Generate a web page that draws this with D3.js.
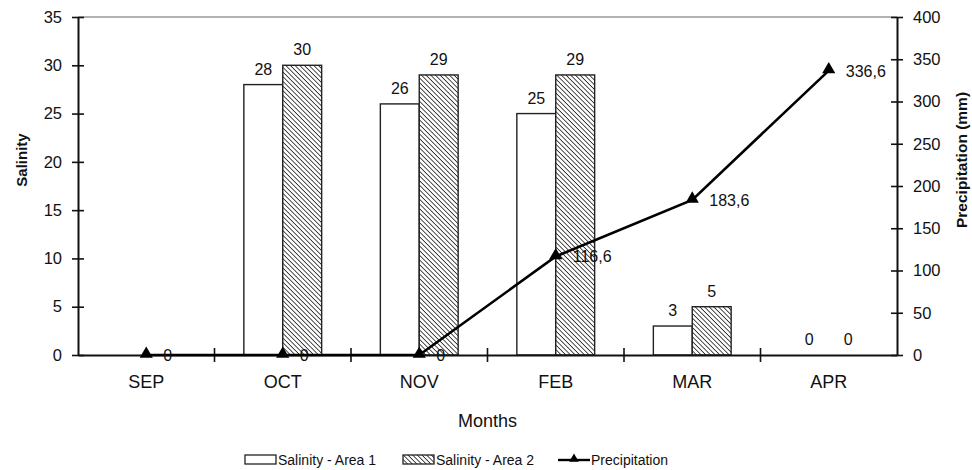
<!DOCTYPE html>
<html>
<head>
<meta charset="utf-8">
<script src="https://cdn.jsdelivr.net/npm/d3@7"></script>
<style>
  body { margin: 0; background: #fff; }
  svg text { font-family: "Liberation Sans", Arial, sans-serif; fill: #111; }
</style>
</head>
<body>
<div id="chart"></div>
<script>
// Data
const months = ["SEP", "OCT", "NOV", "FEB", "MAR", "APR"];
const salinityArea1 = [null, 28, 26, 25, 3, 0];
const salinityArea2 = [null, 30, 29, 29, 5, 0];
const precipitation = [0, 0, 0, 116.6, 183.6, 336.6];
const salinityTicks = [0, 5, 10, 15, 20, 25, 30, 35];
const precipTicks = [0, 50, 100, 150, 200, 250, 300, 350, 400];

const W = 972, H = 470;
const margin = { top: 17, right: 75, bottom: 115, left: 78 },
      width = W - margin.left - margin.right,
      height = H - margin.top - margin.bottom;

const svg = d3.select("#chart").append("svg")
    .attr("width", W)
    .attr("height", H);

// hatch pattern for area 2 (lines going down to the right)
const defs = svg.append("defs");
const pat = defs.append("pattern")
    .attr("id", "hatch")
    .attr("patternUnits", "userSpaceOnUse")
    .attr("width", 3.3)
    .attr("height", 3.3)
    .attr("patternTransform", "rotate(-45)");
pat.append("rect").attr("width", 3.3).attr("height", 3.3).attr("fill", "#fff");
pat.append("line")
    .attr("x1", 0).attr("y1", 0).attr("x2", 0).attr("y2", 3.3)
    .attr("stroke", "#222").attr("stroke-width", 1.6);

const g = svg.append("g")
    .attr("transform", `translate(${margin.left},${margin.top})`);

const x0 = d3.scaleBand()
    .domain(months)
    .range([0, width]);

const x1 = d3.scaleBand()
    .domain(["a1", "a2"])
    .range([x0.bandwidth() * 0.215, x0.bandwidth() * 0.785]);

const y = d3.scaleLinear().domain([0, 35]).range([height, 0]);
const y2 = d3.scaleLinear().domain([0, 400]).range([height, 0]);

// top border line
g.append("line")
    .attr("x1", 0).attr("x2", width)
    .attr("y1", 0).attr("y2", 0)
    .attr("stroke", "#666").attr("stroke-width", 1.2);

// bars
const rows = months.map((m, i) => ({ month: m, a1: salinityArea1[i], a2: salinityArea2[i] }));
["a1", "a2"].forEach(key => {
    g.append("g").selectAll("rect")
        .data(rows.filter(d => d[key] !== null && d[key] > 0))
        .enter().append("rect")
        .attr("x", d => x0(d.month) + x1(key))
        .attr("y", d => y(d[key]))
        .attr("width", x1.bandwidth())
        .attr("height", d => y(0) - y(d[key]))
        .attr("fill", key === "a1" ? "#fff" : "url(#hatch)")
        .attr("stroke", "#222")
        .attr("stroke-width", 1.4);

    g.append("g").selectAll("text")
        .data(rows.filter(d => d[key] !== null))
        .enter().append("text")
        .attr("x", d => x0(d.month) + x1(key) + x1.bandwidth() / 2)
        .attr("y", d => y(d[key]) - 10)
        .attr("text-anchor", "middle")
        .style("font-size", "16px")
        .text(d => d[key]);
});

// axes
const leftAxis = g.append("g")
    .call(d3.axisLeft(y).tickValues(salinityTicks).tickSizeInner(6).tickSizeOuter(0).tickPadding(10));
const rightAxis = g.append("g")
    .attr("transform", `translate(${width},0)`)
    .call(d3.axisRight(y2).tickValues(precipTicks).tickSizeInner(6).tickSizeOuter(0).tickPadding(10));
const bottomAxis = g.append("g")
    .attr("transform", `translate(0,${height})`)
    .call(d3.axisBottom(x0).tickSize(0).tickPadding(20));

[leftAxis, rightAxis, bottomAxis].forEach(a => {
    a.select(".domain").attr("stroke", "#111").attr("stroke-width", 2);
    a.selectAll("text").style("font-size", "16.5px").attr("fill", "#111");
    a.selectAll(".tick line").attr("stroke", "#111").attr("stroke-width", 1.6);
});
bottomAxis.selectAll("text").style("font-size", "18px");
// ticks cross the axis on both sides
leftAxis.selectAll(".tick line").attr("x1", 6).attr("x2", -6);
rightAxis.selectAll(".tick line").attr("x1", -6).attr("x2", 6);

// category boundary ticks on x axis
g.append("g").selectAll("line")
    .data(months.slice(1))
    .enter().append("line")
    .attr("x1", d => x0(d)).attr("x2", d => x0(d))
    .attr("y1", height - 7).attr("y2", height + 7)
    .attr("stroke", "#111").attr("stroke-width", 1.6);

// precipitation line
const cx = i => x0(months[i]) + x0.bandwidth() / 2;
const line = d3.line()
    .x((d, i) => cx(i))
    .y(d => y2(d));

g.append("path")
    .datum(precipitation)
    .attr("d", line)
    .attr("fill", "none")
    .attr("stroke", "#000")
    .attr("stroke-width", 2.6);

const tri = d3.symbol().type(d3.symbolTriangle).size(75);
g.append("g").selectAll("path")
    .data(precipitation)
    .enter().append("path")
    .attr("d", tri)
    .attr("transform", (d, i) => `translate(${cx(i)},${y2(d) - 1})`)
    .attr("fill", "#000");

g.append("g").selectAll("text")
    .data(precipitation)
    .enter().append("text")
    .attr("x", (d, i) => cx(i) + 17)
    .attr("y", d => y2(d) + 6)
    .style("font-size", "16px")
    .text(d => String(d).replace(".", ","));

// axis titles
g.append("text")
    .attr("transform", "rotate(-90)")
    .attr("x", -(160 - margin.top))
    .attr("y", -51)
    .attr("text-anchor", "middle")
    .style("font-size", "15px")
    .style("font-weight", "bold")
    .text("Salinity");

g.append("text")
    .attr("transform", "rotate(-90)")
    .attr("x", -(160 - margin.top))
    .attr("y", width + 70)
    .attr("text-anchor", "middle")
    .style("font-size", "15.5px")
    .style("font-weight", "bold")
    .text("Precipitation (mm)");

g.append("text")
    .attr("x", width / 2)
    .attr("y", height + 72)
    .attr("text-anchor", "middle")
    .style("font-size", "18px")
    .text("Months");

// legend
const legend = svg.append("g").attr("transform", `translate(0,${H - 10})`);
const legendItems = [
    { label: "Salinity - Area 1", x: 245, type: "box", fill: "#fff" },
    { label: "Salinity - Area 2", x: 403, type: "box", fill: "url(#hatch)" },
    { label: "Precipitation", x: 558, type: "line" }
];
legendItems.forEach(it => {
    const row = legend.append("g").attr("transform", `translate(${it.x},0)`);
    if (it.type === "box") {
        row.append("rect")
            .attr("x", 0).attr("y", -5)
            .attr("width", 31).attr("height", 9)
            .attr("fill", it.fill)
            .attr("stroke", "#222").attr("stroke-width", 1.3);
    } else {
        row.append("line")
            .attr("x1", 0).attr("x2", 32).attr("y1", 0).attr("y2", 0)
            .attr("stroke", "#000").attr("stroke-width", 2.4);
        row.append("path")
            .attr("d", d3.symbol().type(d3.symbolTriangle).size(40))
            .attr("transform", "translate(16,-1)")
            .attr("fill", "#000");
    }
    row.append("text")
        .attr("x", 33).attr("y", 5)
        .style("font-size", "14px")
        .text(it.label);
});
</script>
</body>
</html>
